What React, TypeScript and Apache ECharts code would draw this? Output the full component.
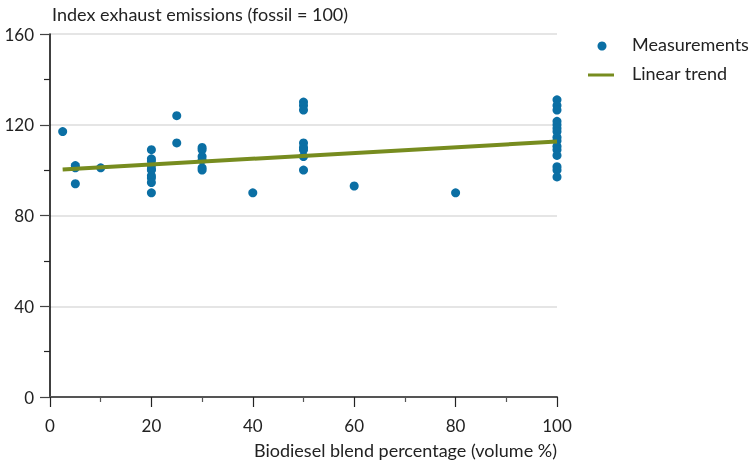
import React, { useEffect, useRef } from "react";
import * as echarts from "echarts";

const blend: number[] = [
  2.5, 5, 5, 5, 10,
  20, 20, 20, 20, 20, 20, 20, 20, 20, 20,
  25, 25,
  30, 30, 30, 30, 30, 30,
  40,
  50, 50, 50, 50, 50, 50, 50, 50,
  60, 80,
  100, 100, 100, 100, 100, 100, 100, 100, 100, 100, 100, 100, 100, 100, 100,
];
const emission: number[] = [
  117, 102, 101, 94, 101,
  109, 105, 104, 102, 100.5, 100, 97.5, 96.5, 94.5, 90,
  124, 112,
  110, 109, 106, 104.5, 101, 100,
  90,
  130, 128.5, 126.5, 112, 110, 109, 106, 100,
  93, 90,
  131, 128.5, 126.5, 121.5, 120, 118.5, 117, 114.5, 113, 110.5, 109, 106.5, 101.5, 100, 97,
];
const trendX: number[] = [2.5, 100];
const trendY: number[] = [100.3, 112.6];

const yTitle = "Index exhaust emissions (fossil = 100)";
const xTitle = "Biodiesel blend percentage (volume %)";
const seriesNames = ["Measurements", "Linear trend"];

const FONT = "Lato, 'Noto Sans', sans-serif";
const TXT = "#222";
const BLUE = "#0b6fa4";
const GREEN = "#778c1f";
const FS = 18;

export default function App() {
  const ref = useRef<HTMLDivElement>(null);
  useEffect(() => {
    if (!ref.current) return;
    const chart = echarts.init(ref.current, undefined, { renderer: "svg" });
    chart.setOption({
      animation: false,
      textStyle: { fontFamily: FONT },
      grid: { left: 50, right: 195, top: 34, bottom: 71, containLabel: false },
      xAxis: {
        type: "value",
        min: 0,
        max: 100,
        interval: 20,
        axisLine: { show: true, onZero: false, lineStyle: { color: "#555", width: 2 } },
        axisTick: { show: true, length: 10, lineStyle: { color: "#222", width: 1.2 } },
        minorTick: { show: true, splitNumber: 2, length: 5, lineStyle: { color: "#555", width: 1.2 } },
        splitLine: { show: false },
        axisLabel: { color: TXT, fontSize: 17, margin: 20, fontFamily: FONT },
      },
      yAxis: {
        type: "value",
        min: 0,
        max: 160,
        interval: 40,
        axisLine: { show: true, lineStyle: { color: "#000", width: 1.5 } },
        axisTick: { show: true, length: 10, lineStyle: { color: "#444", width: 1.2 } },
        minorTick: { show: true, splitNumber: 2, length: 6, lineStyle: { color: "#222", width: 1.2 } },
        splitLine: { show: true, lineStyle: { color: "#dcdcdc", width: 1.5 } },
        axisLabel: { color: TXT, fontSize: 17, margin: 16, fontFamily: FONT },
      },
      graphic: [
        { type: "text", left: 52, top: 5, style: { text: yTitle, fill: TXT, font: `${FS}px ${FONT}` } },
        { type: "text", right: 752 - 557, top: 441, style: { text: xTitle, fill: TXT, font: `${FS}px ${FONT}` } },
        { type: "circle", shape: { cx: 602, cy: 46, r: 4.5 }, style: { fill: BLUE } },
        { type: "text", left: 632, top: 35, style: { text: seriesNames[0], fill: TXT, font: `${FS}px ${FONT}` } },
        { type: "line", shape: { x1: 588, y1: 75, x2: 614, y2: 75 }, style: { stroke: GREEN, lineWidth: 3 } },
        { type: "text", left: 632, top: 64, style: { text: seriesNames[1], fill: TXT, font: `${FS}px ${FONT}` } },
      ],
      series: [
        {
          name: seriesNames[0],
          type: "scatter",
          symbol: "circle",
          symbolSize: 9,
          itemStyle: { color: BLUE, opacity: 1 },
          data: blend.map((x, i) => [x, emission[i]]),
          z: 2,
        },
        {
          name: seriesNames[1],
          type: "line",
          symbol: "none",
          lineStyle: { color: GREEN, width: 4 },
          data: trendX.map((x, i) => [x, trendY[i]]),
          z: 3,
        },
      ],
    });
    return () => chart.dispose();
  }, []);
  return <div ref={ref} style={{ width: 752, height: 468, position: "fixed", left: 0, top: 0 }} />;
}
